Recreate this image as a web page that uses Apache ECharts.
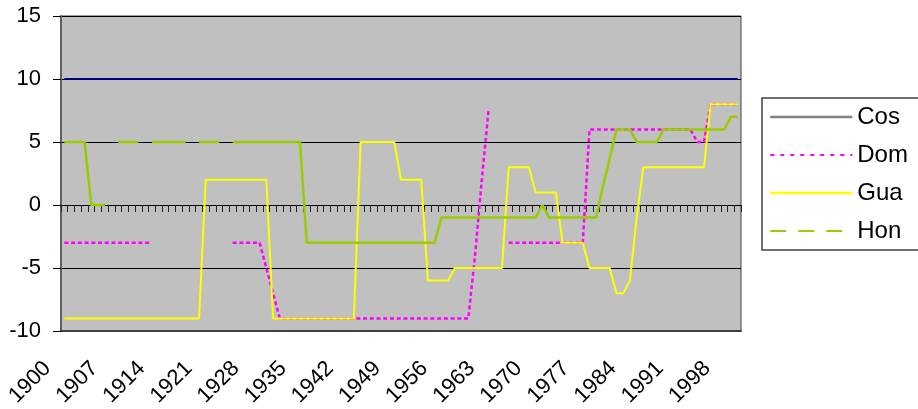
<!DOCTYPE html>
<html><head><meta charset="utf-8">
<script src="https://cdn.jsdelivr.net/npm/echarts@6/dist/echarts.min.js"></script>
<style>html,body{margin:0;padding:0;background:#fff}#c{width:918px;height:409px}</style>
</head><body><div id="c"></div>
<script>
const years = [
 1900,1901,1902,1903,1904,1905,1906,1907,1908,1909,
 1910,1911,1912,1913,1914,1915,1916,1917,1918,1919,
 1920,1921,1922,1923,1924,1925,1926,1927,1928,1929,
 1930,1931,1932,1933,1934,1935,1936,1937,1938,1939,
 1940,1941,1942,1943,1944,1945,1946,1947,1948,1949,
 1950,1951,1952,1953,1954,1955,1956,1957,1958,1959,
 1960,1961,1962,1963,1964,1965,1966,1967,1968,1969,
 1970,1971,1972,1973,1974,1975,1976,1977,1978,1979,
 1980,1981,1982,1983,1984,1985,1986,1987,1988,1989,
 1990,1991,1992,1993,1994,1995,1996,1997,1998,1999,
 2000];
const cos = [
 10,10,10,10,10,10,10,10,10,10,
 10,10,10,10,10,10,10,10,10,10,
 10,10,10,10,10,10,10,10,10,10,
 10,10,10,10,10,10,10,10,10,10,
 10,10,10,10,10,10,10,10,10,10,
 10,10,10,10,10,10,10,10,10,10,
 10,10,10,10,10,10,10,10,10,10,
 10,10,10,10,10,10,10,10,10,10,
 10,10,10,10,10,10,10,10,10,10,
 10,10,10,10,10,10,10,10,10,10,
 10];
const dom = [
 -3,-3,-3,-3,-3,-3,-3,-3,-3,-3,
 -3,-3,-3,-3,null,null,null,null,null,null,
 null,null,null,null,null,-3,-3,-3,-3,-3,
 -5,-7,-9,-9,-9,-9,-9,-9,-9,-9,
 -9,-9,-9,-9,-9,-9,-9,-9,-9,-9,
 -9,-9,-9,-9,-9,-9,-9,-9,-9,-9,
 -9,-4,2,7.5,null,null,-3,-3,-3,-3,
 -3,-3,-3,-3,-3,-3,-3,-3,6,6,
 6,6,6,6,6,6,6,6,6,6,
 6,6,6,6,5,5,8,8,8,8,
 8];
const gua = [
 -9,-9,-9,-9,-9,-9,-9,-9,-9,-9,
 -9,-9,-9,-9,-9,-9,-9,-9,-9,-9,
 -9,2,2,2,2,2,2,2,2,2,
 2,-9,-9,-9,-9,-9,-9,-9,-9,-9,
 -9,-9,-9,-9,5,5,5,5,5,5,
 2,2,2,2,-6,-6,-6,-6,-5,-5,
 -5,-5,-5,-5,-5,-5,3,3,3,3,
 1,1,1,1,-3,-3,-3,-3,-5,-5,
 -5,-5,-7,-7,-6,-1,3,3,3,3,
 3,3,3,3,3,3,8,8,8,8,
 8];
const hon = [
 5,5,5,5,0,0,0,null,5,5,
 5,5,null,5,5,5,5,5,5,null,
 5,5,5,5,null,5,5,5,5,5,
 5,5,5,5,5,5,-3,-3,-3,-3,
 -3,-3,-3,-3,-3,-3,-3,-3,-3,-3,
 -3,-3,-3,-3,-3,-3,-1,-1,-1,-1,
 -1,-1,-1,-1,-1,-1,-1,-1,-1,-1,
 -1,0,-1,-1,-1,-1,-1,-1,-1,-1,
 1.5,3.7,6,6,6,5,5,5,5,6,
 6,6,6,6,6,6,6,6,6,7,
 7];
const seriesNames = ['Cos','Dom','Gua','Hon'];

const font = "'Liberation Sans', Arial, sans-serif";
const chart = echarts.init(document.getElementById('c'));
chart.setOption({
  animation: false,
  backgroundColor: '#fff',
  grid: {left: 61, right: 177, top: 16, bottom: 78, show: true, outerBoundsMode: 'none',
    containLabel: false,
    backgroundColor: '#C0C0C0', borderColor: '#404040', borderWidth: 1},
  xAxis: [
    {type: 'category', data: years, boundaryGap: true, position: 'bottom',
     axisLine: {onZero: true, lineStyle: {color: '#000', width: 1}},
     axisTick: {show: true, interval: 0, length: 7, lineStyle: {color: '#222', width: 1}},
     axisLabel: {show: false}, splitLine: {show: false}},
    {type: 'category', data: years, boundaryGap: true, position: 'bottom',
     axisLine: {onZero: false, lineStyle: {color: '#404040', width: 2}},
     axisTick: {show: false},
     axisLabel: {interval: 6, rotate: 45, fontSize: 22, fontFamily: font, color: '#000',
       margin: 17, padding: [0, 24, 0, 0]},
     splitLine: {show: false}}
  ],
  yAxis: {type: 'value', min: -10, max: 15, interval: 5,
    axisLine: {show: true, lineStyle: {color: '#606060', width: 2}},
    axisTick: {show: true, length: 8, lineStyle: {color: '#000'}},
    axisLabel: {fontSize: 22, fontFamily: font, color: '#000', margin: 20},
    splitLine: {lineStyle: {color: '#000', width: 1}}},
  legend: {orient: 'vertical', left: 762, top: 98, itemWidth: 82, itemHeight: 14, itemGap: 14,
    padding: [7, 120, 7, 7], backgroundColor: '#fff', borderColor: '#404040', borderWidth: 1.5,
    itemStyle: {opacity: 0, borderWidth: 0},
    textStyle: {fontSize: 24, fontFamily: font, color: '#000'},
    data: [
      {name: seriesNames[0], lineStyle: {color: '#808080', width: 2.5}},
      {name: seriesNames[1], lineStyle: {type: [4, 6]}},
      {name: seriesNames[2], lineStyle: {width: 2.5}},
      {name: seriesNames[3], lineStyle: {type: [16, 12]}}
    ]},
  series: [
    {name: seriesNames[0], type: 'line', data: cos, symbol: 'none', xAxisIndex: 0,
     lineStyle: {color: '#000080', width: 2}, itemStyle: {color: '#000080'}},
    {name: seriesNames[1], type: 'line', data: dom, symbol: 'none', xAxisIndex: 0,
     lineStyle: {color: '#FF00FF', width: 2.5, type: [4, 2.73]}, itemStyle: {color: '#FF00FF'}},
    {name: seriesNames[2], type: 'line', data: gua, symbol: 'none', xAxisIndex: 0,
     lineStyle: {color: '#FFFF00', width: 2}, itemStyle: {color: '#FFFF00'}},
    {name: seriesNames[3], type: 'line', data: hon, symbol: 'none', xAxisIndex: 0,
     lineStyle: {color: '#99CC00', width: 2.5}, itemStyle: {color: '#99CC00'}}
  ]
});
</script></body></html>
